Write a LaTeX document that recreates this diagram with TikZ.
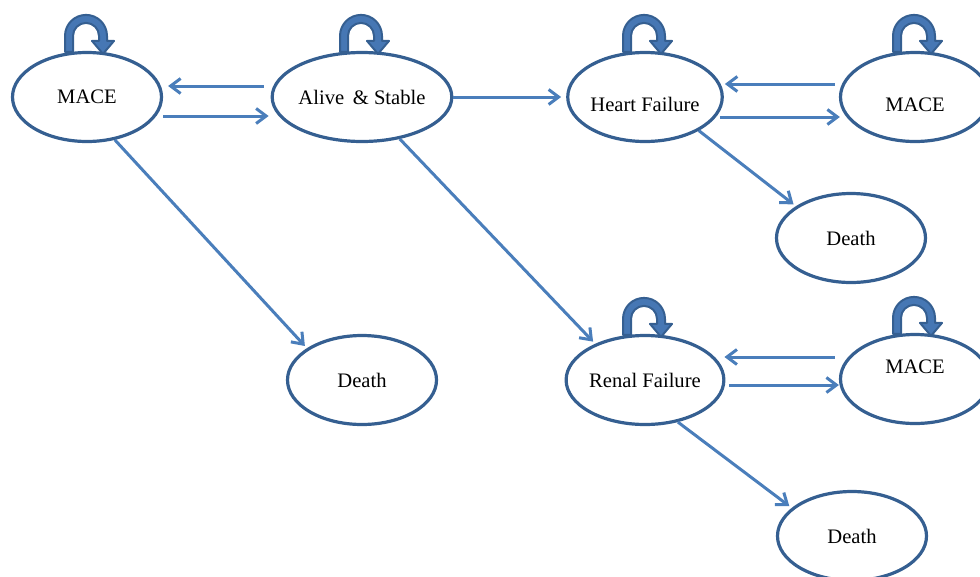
\documentclass[tikz,border=0pt]{standalone}
\usepackage{fontspec}
\setmainfont{Liberation Serif}
\usetikzlibrary{shapes.geometric,arrows.meta}
\definecolor{rimblue}{HTML}{355F91}
\definecolor{arrowblue}{HTML}{4A7EBB}
\definecolor{loopblue}{HTML}{4677B4}
\def\addloop#1{\draw[loop arrow, shift={(#1.north)}] (-22,-1) -- (-22,15) arc (180:0:21) -- (20,10) -- (27,10) -- (16,-3) -- (5,10) -- (12,10) -- (12,15) arc (0:180:13) -- (-14,-1) -- cycle;}

\begin{document}
\begin{tikzpicture}[x=1pt,y=1pt,
				state/.style={ellipse, draw=rimblue, line width=3.2pt, minimum width=149pt, minimum height=89pt, inner sep=0pt, font=\fontsize{20.6}{24}\selectfont},
				flow/.style={draw=arrowblue, line width=3pt, -{Straight Barb[length=10pt,width=15pt]}},
				loop arrow/.style={fill=loopblue, draw=rimblue, line width=2pt, line join=round}]
			\useasboundingbox (0,0) rectangle (980,-576);
			\node[state] (mace) at (87,-97) {MACE};
			\node[state] (alive) at (362,-97) {Alive \,\& Stable};
			\node[state] (heart) at (645,-97) {\raisebox{-7pt}[\height][\depth]{Heart Failure}};
			\node[state] (maceh) at (915,-97) {\raisebox{-8pt}[\height][\depth]{MACE}};
			\node[state] (deathh) at (851,-238) {Death};
			\node[state] (death) at (362,-380) {Death};
			\node[state] (renal) at (645,-380) {Renal Failure};
			\node[state] (macer) at (915,-379) {\raisebox{12pt}[\height][\depth]{MACE}};
			\node[state] (deathr) at (852,-536) {Death};
			\addloop{mace}
			\addloop{alive}
			\addloop{heart}
			\addloop{maceh}
			\addloop{renal}
			\addloop{macer}
			\draw[flow] ([shift={(-7,11)}]alive.west) -- ([shift={(5,11)}]mace.east);
			\draw[flow] ([shift={(0,-19)}]mace.east) -- ([shift={(-2,-19)}]alive.west);
			\draw[flow, shorten >=5pt] (alive.east) -- (heart.west);
			\draw[flow] ([shift={(-4,13)}]maceh.west) -- ([shift={(1,13)}]heart.east);
			\draw[flow] ([shift={(-4,-20)}]heart.east) -- ([shift={(1,-20)}]maceh.west);
			\draw[flow] ([shift={(-4,22)}]macer.west) -- ([shift={(-1,23)}]renal.east);
			\draw[flow] ([shift={(4,-5)}]renal.east) -- ([shift={(0,-6)}]macer.west);
			\draw[flow, shorten >=3pt] (mace.-57) -- (death.150);
			\draw[flow, shorten >=3pt] (alive.-48) -- (renal.144);
			\draw[flow, shorten >=3pt] (heart.-32) -- (deathh.150);
			\draw[flow, shorten >=3pt] (renal.-52) -- (deathr.155);
		\end{tikzpicture}
\end{document}
